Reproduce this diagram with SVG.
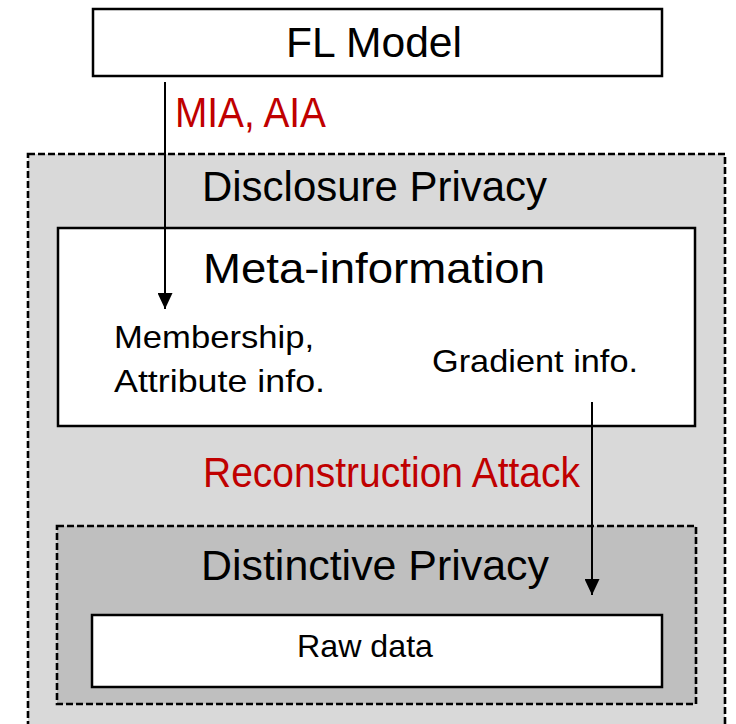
<svg xmlns="http://www.w3.org/2000/svg" width="736" height="724" viewBox="0 0 736 724">
  <defs>
    <marker id="arrowhead" markerWidth="16" markerHeight="15" refX="16" refY="7.5" orient="auto" markerUnits="userSpaceOnUse">
      <path d="M0,0 L16,7.5 L0,15 Z" fill="#000"/>
    </marker>
    <style>
      .box { fill: #fff; stroke: #000; stroke-width: 2.5; }
      .zone { stroke: #000; stroke-width: 2.6; stroke-dasharray: 7 3; }
      .label { font-family: "Liberation Sans", Arial, sans-serif; fill: #000; }
      .title { font-size: 42px; }
      .small { font-size: 32px; }
      .attack { fill: #C00000; }
      .edge { stroke: #000; stroke-width: 2; fill: none; }
    </style>
  </defs>

  <rect width="736" height="724" fill="#fff"/>

  <!-- outer zone: disclosure privacy -->
  <g id="disclosure-privacy">
    <rect class="zone" x="28" y="154" width="697" height="600" fill="#D9D9D9"/>
    <text class="label title" x="202" y="201" textLength="345" lengthAdjust="spacingAndGlyphs">Disclosure Privacy</text>
  </g>

  <!-- model box -->
  <g id="fl-model">
    <rect class="box" x="93" y="9" width="569" height="67"/>
    <text class="label title" x="286" y="57" textLength="176" lengthAdjust="spacingAndGlyphs">FL Model</text>
  </g>

  <!-- meta-information box -->
  <g id="meta-information">
    <rect class="box" x="58" y="228" width="637" height="198"/>
    <text class="label title" x="203" y="283" textLength="342" lengthAdjust="spacingAndGlyphs">Meta-information</text>
    <text class="label small" x="114" y="348" textLength="200" lengthAdjust="spacingAndGlyphs">Membership,</text>
    <text class="label small" x="114" y="392" textLength="211" lengthAdjust="spacingAndGlyphs">Attribute info.</text>
    <text class="label small" x="432" y="372" textLength="206" lengthAdjust="spacingAndGlyphs">Gradient info.</text>
  </g>

  <!-- inner zone: distinctive privacy -->
  <g id="distinctive-privacy">
    <rect class="zone" x="57" y="526" width="639" height="178" fill="#BFBFBF"/>
    <text class="label title" x="201" y="580" textLength="348" lengthAdjust="spacingAndGlyphs">Distinctive Privacy</text>
  </g>

  <!-- raw data box -->
  <g id="raw-data">
    <rect class="box" x="92" y="615" width="570" height="72"/>
    <text class="label small" x="297" y="657" textLength="136" lengthAdjust="spacingAndGlyphs">Raw data</text>
  </g>

  <!-- attack connectors -->
  <g id="connectors">
    <line class="edge" x1="165" y1="82" x2="165" y2="309" marker-end="url(#arrowhead)"/>
    <text class="label title attack" x="175" y="127" textLength="151" lengthAdjust="spacingAndGlyphs">MIA, AIA</text>
    <line class="edge" x1="592" y1="402" x2="592" y2="595" marker-end="url(#arrowhead)"/>
    <text class="label title attack" x="203" y="487" textLength="377" lengthAdjust="spacingAndGlyphs">Reconstruction Attack</text>
  </g>
</svg>
